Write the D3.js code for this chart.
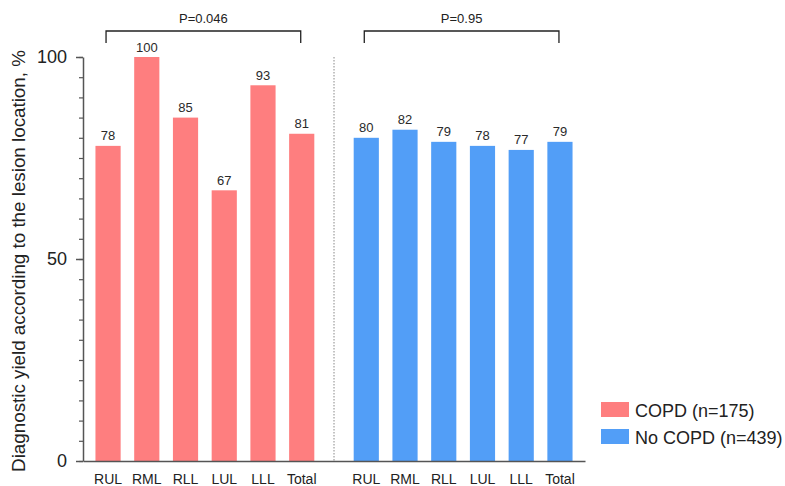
<!DOCTYPE html>
<html>
<head>
<meta charset="utf-8">
<script src="https://cdn.jsdelivr.net/npm/d3@7"></script>
<style>
  html, body { margin: 0; padding: 0; background: #fff; }
  svg { display: block; font-family: "Liberation Sans", Arial, Helvetica, sans-serif; }
</style>
</head>
<body>
<svg id="chart" width="785" height="486"></svg>
<script>
// Diagnostic yield by lesion location, COPD vs no COPD
const groups = ["COPD (n=175)", "No COPD (n=439)"];
const locations = ["RUL", "RML", "RLL", "LUL", "LLL", "Total"];
const copdValues = [78, 100, 85, 67, 93, 81];
const noCopdValues = [80, 82, 79, 78, 77, 79];
const pValues = ["P=0.046", "P=0.95"];
const yMajorTicks = [0, 50, 100];
const yMinorTicks = d3.range(0, 101, 5);
const colors = ["#FE7E7F", "#529EF7"];
const yTitle = "Diagnostic yield according to the lesion location, %";

const seriesValues = [copdValues, noCopdValues];

const svg = d3.select("#chart");
const margin = { left: 83, top: 57 };
const plotRight = 585;
const plotBottom = 461;

const y = d3.scaleLinear().domain([0, 100]).range([plotBottom, margin.top]);

const xGroup = d3.scaleBand()
  .domain(groups)
  .range([margin.left, plotRight])
  .paddingInner(0.1)
  .paddingOuter(0.022);

const xLoc = d3.scaleBand()
  .domain(locations)
  .range([0, xGroup.bandwidth()])
  .paddingInner(0.35)
  .paddingOuter(0.175);

const axisColor = "#555";

// Bars and value labels
groups.forEach((g, gi) => {
  const gx = xGroup(g);
  const layer = svg.append("g").attr("transform", `translate(${gx},0)`);
  const data = locations.map((loc, i) => ({ loc, v: seriesValues[gi][i] }));

  layer.selectAll("rect")
    .data(data)
    .join("rect")
    .attr("x", d => xLoc(d.loc))
    .attr("y", d => y(d.v))
    .attr("width", xLoc.bandwidth())
    .attr("height", d => y(0) - y(d.v))
    .attr("fill", colors[gi]);

  layer.selectAll("text.val")
    .data(data)
    .join("text")
    .attr("class", "val")
    .attr("x", d => xLoc(d.loc) + xLoc.bandwidth() / 2)
    .attr("y", d => y(d.v) - 5.5)
    .attr("text-anchor", "middle")
    .attr("font-size", 13)
    .attr("fill", "#2a2a2a")
    .text(d => d.v);

  // Category labels under each group
  const xAxis = d3.axisBottom(xLoc).tickSize(0).tickPadding(13);
  const ax = svg.append("g")
    .attr("transform", `translate(${gx},${plotBottom})`)
    .call(xAxis);
  ax.select(".domain").remove();
  ax.selectAll("text")
    .attr("font-size", 14)
    .attr("font-family", null)
    .attr("fill", "#222");

  // Significance bracket spanning the group
  const x0 = gx + xLoc(locations[0]) + xLoc.bandwidth() / 2 - 2;
  const x1 = gx + xLoc(locations[locations.length - 1]) + xLoc.bandwidth() / 2 - 1;
  const by = 31, tick = 12;
  svg.append("path")
    .attr("d", `M${x0},${by + tick}V${by}H${x1}V${by + tick}`)
    .attr("fill", "none")
    .attr("stroke", "#222")
    .attr("stroke-width", 1.3);
  svg.append("text")
    .attr("x", (x0 + x1) / 2)
    .attr("y", by - 8)
    .attr("text-anchor", "middle")
    .attr("font-size", 13)
    .attr("fill", "#222")
    .text(pValues[gi]);
});

// Dotted divider between the two groups
const divX = (xGroup(groups[0]) + xGroup.bandwidth() + xGroup(groups[1])) / 2;
svg.append("line")
  .attr("x1", divX).attr("x2", divX)
  .attr("y1", y(100)).attr("y2", plotBottom)
  .attr("stroke", "#888")
  .attr("stroke-width", 1)
  .attr("stroke-dasharray", "1.5,1.5");

// Baseline
const base = svg.append("g")
  .attr("transform", `translate(0,${plotBottom})`)
  .call(d3.axisBottom(xGroup).tickSize(0).tickFormat(""));
base.select(".domain").attr("stroke", axisColor).attr("stroke-width", 1.5);
base.selectAll(".tick").remove();

// Y axis: minor ticks every 5, labelled major ticks
const yMinor = svg.append("g")
  .attr("transform", `translate(${margin.left},0)`)
  .call(d3.axisLeft(y).tickValues(yMinorTicks).tickSize(4).tickSizeOuter(0).tickFormat(""));
yMinor.select(".domain").attr("stroke", axisColor).attr("stroke-width", 1.5);
yMinor.selectAll(".tick line").attr("stroke", axisColor).attr("stroke-width", 1.2);

const yMajor = svg.append("g")
  .attr("transform", `translate(${margin.left},0)`)
  .call(d3.axisLeft(y).tickValues(yMajorTicks).tickSize(7).tickPadding(9));
yMajor.select(".domain").remove();
yMajor.selectAll(".tick line").attr("stroke", axisColor).attr("stroke-width", 1.5);
yMajor.selectAll(".tick text")
  .attr("font-size", 18)
  .attr("font-family", null)
  .attr("fill", "#222");

// Y axis title
svg.append("text")
  .attr("transform", `translate(25,${(y(0) + y(100)) / 2 + 2}) rotate(-90)`)
  .attr("text-anchor", "middle")
  .attr("font-size", 18.8)
  .attr("fill", "#222")
  .text(yTitle);

// Legend
const legend = svg.append("g").attr("transform", "translate(601,402)");
groups.forEach((g, i) => {
  const row = legend.append("g").attr("transform", `translate(0,${i * 27})`);
  row.append("rect")
    .attr("width", 28).attr("height", 15)
    .attr("fill", colors[i]);
  row.append("text")
    .attr("x", 34)
    .attr("y", 14.5)
    .attr("font-size", 18)
    .attr("fill", "#222")
    .text(g);
});
</script>
</body>
</html>
